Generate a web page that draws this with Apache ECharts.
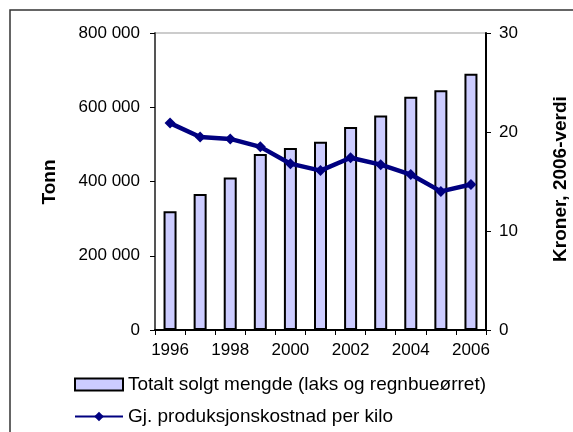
<!DOCTYPE html>
<html lang="no">
<head>
    <meta charset="UTF-8">
    <title>Solgt mengde og produksjonskostnad</title>
    <style>
        body { margin: 0; background: #fff; }
        #chart { width: 573px; height: 432px; }
    </style>
</head>
<body>
<div id="chart"></div>
<script src="https://cdn.jsdelivr.net/npm/echarts@6/dist/echarts.min.js"></script>
<script>
    // år
    const years = ['1996', '1997', '1998', '1999', '2000', '2001', '2002', '2003', '2004', '2005', '2006'];
    // totalt solgt mengde, tonn
    const soldTonnes = [320000, 366000, 411000, 474000, 490000, 507000, 547000, 578000, 628000, 646000, 690000];
    // produksjonskostnad, kroner per kilo (2006-verdi)
    const costPerKilo = [20.9, 19.5, 19.3, 18.5, 16.8, 16.1, 17.4, 16.7, 15.7, 14.0, 14.7];

    const barName = 'Totalt solgt mengde (laks og regnbueørret)';
    const lineName = 'Gj. produksjonskostnad per kilo';

    const font = "'Liberation Sans', Arial, sans-serif";
    const chart = echarts.init(document.getElementById('chart'));

    // felles oppsett for de to forklaringene
    const legendBase = {
        orient: 'vertical',
        left: 74,
        padding: 0,
        itemWidth: 48, itemHeight: 12,
        textStyle: { fontSize: 19, color: '#000' }
    };

    chart.setOption({
        animation: false,
        textStyle: { fontFamily: font },
        grid: {
            left: 155, right: 87, top: 33, bottom: 102,
            show: true, borderColor: '#999', borderWidth: 1
        },
        legend: [
            Object.assign({}, legendBase, { top: 375, icon: 'rect', data: [barName] }),
            Object.assign({}, legendBase, { top: 407, data: [lineName] })
        ],
        xAxis: {
            type: 'category',
            data: years,
            boundaryGap: true,
            axisLine: { lineStyle: { color: '#000', width: 2 } },
            axisTick: { show: true, interval: 0, length: 5, lineStyle: { color: '#000' } },
            axisLabel: { interval: 1, margin: 12, fontSize: 17, color: '#000' }
        },
        yAxis: [{
            type: 'value',
            min: 0, max: 800000, interval: 200000,
            axisLine: { show: true, lineStyle: { color: '#555', width: 2 } },
            axisTick: { show: true, length: 5, lineStyle: { color: '#000' } },
            splitLine: { show: false },
            axisLabel: {
                margin: 15, fontSize: 17, color: '#000',
                formatter: v => String(v).replace(/\B(?=(\d{3})+(?!\d))/g, ' ')
            }
        }, {
            type: 'value',
            min: 0, max: 30, interval: 10,
            position: 'right',
            axisLine: { show: true, lineStyle: { color: '#000', width: 2 } },
            axisTick: { show: true, length: 5, lineStyle: { color: '#000' } },
            splitLine: { show: false },
            axisLabel: { margin: 13, fontSize: 17, color: '#000' }
        }],
        graphic: [{
            type: 'rect',
            shape: { x: 10, y: 10, width: 700, height: 600 },
            style: { fill: 'none', stroke: '#333', lineWidth: 1.5 },
            silent: true
        }, {
            type: 'text',
            x: 50, y: 182,
            rotation: Math.PI / 2,
            style: {
                text: 'Tonn', font: 'bold 19px ' + font, fill: '#000',
                align: 'center', verticalAlign: 'middle'
            }
        }, {
            type: 'text',
            x: 561, y: 179,
            rotation: Math.PI / 2,
            style: {
                text: 'Kroner, 2006-verdi', font: 'bold 19px ' + font, fill: '#000',
                align: 'center', verticalAlign: 'middle'
            }
        }],
        series: [{
            name: barName,
            type: 'bar',
            data: soldTonnes,
            barWidth: 13,
            itemStyle: { color: '#CCCCFF', borderColor: '#000', borderWidth: 2 }
        }, {
            name: lineName,
            type: 'line',
            yAxisIndex: 1,
            data: costPerKilo,
            symbol: 'diamond',
            symbolSize: 11,
            lineStyle: { color: '#000080', width: 4.5 },
            itemStyle: { color: '#000080' }
        }]
    });
</script>
</body>
</html>
